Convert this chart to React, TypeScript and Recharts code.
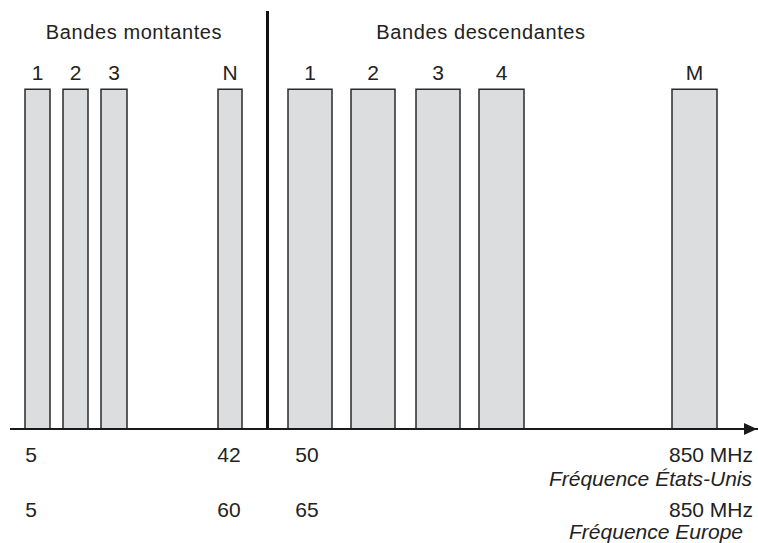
import {
  ComposedChart,
  XAxis,
  YAxis,
  Scatter,
  LabelList,
  ReferenceArea,
  ReferenceLine,
  ReferenceDot,
} from "recharts";

// positions along the schematic frequency axis (not to scale)
const upBands = [
  { name: "1", start: 25, end: 50 },
  { name: "2", start: 63, end: 88 },
  { name: "3", start: 101, end: 127 },
  { name: "N", start: 218, end: 242 },
];
const downBands = [
  { name: "1", start: 288, end: 332 },
  { name: "2", start: 351, end: 395 },
  { name: "3", start: 416, end: 460 },
  { name: "4", start: 479, end: 524 },
  { name: "M", start: 672, end: 717 },
];
const bandHeight = 81.3;

const groupTitles = [
  { text: "Bandes montantes", at: 134 },
  { text: "Bandes descendantes", at: 481 },
];
const titleLevel = 93.3;
const dividerAt = 267.5;
const arrowAt = 757;

const freqTicks = [31, 229, 307, 753];
const usLabels = ["5", "42", "50", "850 MHz"];
const euLabels = ["5", "60", "65", "850 MHz"];

const FONT = '"Liberation Sans", Arial, Helvetica, sans-serif';
const INK = "#222";
const GREY = "#dcdddf";

function FreqTick(props: any) {
  const { x, y, payload } = props;
  const i = freqTicks.indexOf(payload.value);
  const last = i === freqTicks.length - 1;
  const anchor = last ? "end" : "middle";
  const t = { fontFamily: FONT, fontSize: 21, fill: INK };
  return (
    <g>
      <text x={x} y={y + 33} textAnchor={anchor} {...t}>
        {usLabels[i]}
      </text>
      <text x={x} y={y + 88} textAnchor={anchor} {...t}>
        {euLabels[i]}
      </text>
      {last && (
        <>
          <text x={x - 1} y={y + 57} textAnchor="end" fontStyle="italic" {...t}>
            Fréquence États-Unis
          </text>
          <text x={x - 10} y={y + 110} textAnchor="end" fontStyle="italic" {...t}>
            Fréquence Europe
          </text>
        </>
      )}
    </g>
  );
}

export default function App() {
  const bands = [...upBands, ...downBands];
  const bandPoints = bands.map((b) => ({
    name: b.name,
    mid: (b.start + b.end) / 2,
    top: bandHeight,
  }));
  return (
    <div style={{ position: "absolute", left: 0, top: 0, background: "#fff" }}>
      <ComposedChart
        width={758}
        height={543}
        margin={{ top: 11, right: 0, bottom: 0, left: 10 }}
      >
        <XAxis
          dataKey="mid"
          type="number"
          domain={[10, 758]}
          allowDataOverflow
          ticks={freqTicks}
          interval={0}
          height={114}
          tickSize={0}
          tickMargin={0}
          tickLine={false}
          axisLine={{ stroke: "#1a1a1a", strokeWidth: 2 }}
          tick={<FreqTick />}
        />
        <YAxis hide dataKey="top" type="number" domain={[0, 100]} allowDataOverflow />

        {bands.map((b, i) => (
          <ReferenceArea
            key={i}
            x1={b.start}
            x2={b.end}
            y1={0}
            y2={bandHeight}
            fill={GREY}
            fillOpacity={1}
            stroke="#2a2a2a"
            strokeWidth={1.5}
          />
        ))}

        <Scatter
          data={bandPoints}
          isAnimationActive={false}
          shape={() => <g />}
          legendType="none"
        >
          <LabelList
            dataKey="name"
            position="top"
            offset={5}
            fontSize={21}
            fontFamily={FONT}
            fill={INK}
          />
        </Scatter>

        <ReferenceLine x={dividerAt} stroke="#111" strokeWidth={3} />

        {groupTitles.map((t) => (
          <ReferenceDot
            key={t.text}
            x={t.at}
            y={titleLevel}
            r={0}
            fill="none"
            stroke="none"
            label={{
              value: t.text,
              position: "top",
              offset: 0,
              fontSize: 20,
              letterSpacing: 0.6,
              fontFamily: FONT,
              fill: INK,
            }}
          />
        ))}

        <ReferenceDot
          x={arrowAt}
          y={0}
          ifOverflow="visible"
          shape={(p: any) => (
            <path
              d={`M${p.cx - 13},${p.cy - 6} L${p.cx},${p.cy} L${p.cx - 13},${p.cy + 6} Z`}
              fill="#1a1a1a"
            />
          )}
        />
      </ComposedChart>
    </div>
  );
}
